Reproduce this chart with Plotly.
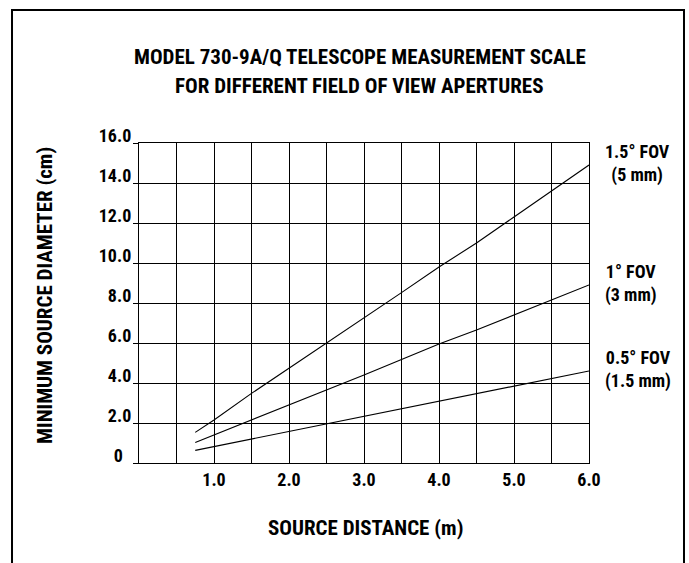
import plotly.graph_objects as go

# ---- data ----
distance_m = [0.75, 1.0, 1.5, 2.0, 2.5, 3.0, 3.5, 4.0, 4.5, 5.0, 5.5, 6.0]
fov_1p5 = [1.53, 2.15, 3.48, 4.73, 6.0, 7.25, 8.52, 9.8, 11.0, 12.3, 13.6, 14.9]
fov_1p0 = [1.03, 1.40, 2.15, 2.88, 3.65, 4.40, 5.18, 5.95, 6.65, 7.4, 8.15, 8.9]
fov_0p5 = [0.63, 0.82, 1.18, 1.57, 1.95, 2.32, 2.71, 3.08, 3.45, 3.85, 4.23, 4.6]

series_labels = ["1.5° FOV<br>(5 mm)", "1° FOV<br>(3 mm)", "0.5° FOV<br>(1.5 mm)"]

x_tick_vals = [0, 1, 2, 3, 4, 5, 6]
x_tick_text = ["", "1.0", "2.0", "3.0", "4.0", "5.0", "6.0"]
x_minor_vals = [0.5, 1.5, 2.5, 3.5, 4.5, 5.5]
y_tick_vals = [0, 2, 4, 6, 8, 10, 12, 14, 16]
y_tick_text = ["0\u00a0\u00a0", "2.0", "4.0", "6.0", "8.0", "10.0", "12.0", "14.0", "16.0"]

title_lines = ["MODEL 730-9A/Q TELESCOPE MEASUREMENT SCALE",
               "FOR DIFFERENT FIELD OF VIEW APERTURES"]
x_title = "SOURCE DISTANCE (m)"
y_title = "MINIMUM SOURCE DIAMETER (cm)"

FONT = "Roboto Condensed, Roboto, sans-serif"

fig = go.Figure()
for ys in (fov_1p5, fov_1p0, fov_0p5):
    fig.add_trace(go.Scatter(x=distance_m, y=ys, mode="lines",
                             line=dict(color="black", width=1.1),
                             showlegend=False, hoverinfo="x+y"))

annotations = []
# curve labels at the right end of each curve
for ys, lab in zip((fov_1p5, fov_1p0, fov_0p5), series_labels):
    annotations.append(dict(x=distance_m[-1], y=ys[-1], xref="x", yref="y",
                            text=lab, showarrow=False, xanchor="left", yanchor="middle",
                            xshift=14, yshift=2, align="center",
                            font=dict(family=FONT, size=18, color="black", weight="bold")))
# title lines
for yy, t in zip((1.269, 1.178), title_lines):
    annotations.append(dict(x=0.491, y=yy, xref="paper", yref="paper", text=t,
                            showarrow=False, xanchor="center", yanchor="middle",
                            font=dict(family=FONT, size=21, color="black", weight="bold")))
# axis titles
annotations.append(dict(x=0.503, y=-0.203, xref="paper", yref="paper", text=x_title,
                        showarrow=False, xanchor="center", yanchor="middle",
                        font=dict(family=FONT, size=21, color="black", weight="bold")))
annotations.append(dict(x=-0.209, y=0.525, xref="paper", yref="paper", text=y_title,
                        showarrow=False, xanchor="center", yanchor="middle", textangle=-90,
                        font=dict(family=FONT, size=21, color="black", weight="bold")))

fig.update_layout(
    width=689, height=563, autosize=False,
    margin=dict(l=139, r=100, t=143, b=100, pad=0),
    paper_bgcolor="white", plot_bgcolor="white",
    annotations=annotations,
    shapes=[dict(type="rect", xref="paper", yref="paper",
                 x0=-0.2822, x1=1.2111, y0=-0.45, y1=1.4156,
                 line=dict(color="black", width=2), fillcolor="rgba(0,0,0,0)")],
    xaxis=dict(range=[0, 6], tickmode="array", tickvals=x_tick_vals, ticktext=x_tick_text,
               showgrid=True, gridcolor="black", gridwidth=1.2,
               showline=True, linecolor="black", linewidth=1.3, mirror=True,
               ticks="", zeroline=False,
               minor=dict(tickvals=x_minor_vals, showgrid=True, gridcolor="black",
                          gridwidth=1.2, ticks=""),
               tickfont=dict(family=FONT, size=18, color="black", weight="bold")),
    yaxis=dict(range=[0, 16], tickmode="array", tickvals=y_tick_vals, ticktext=y_tick_text,
               showgrid=True, gridcolor="black", gridwidth=1.2,
               showline=True, linecolor="black", linewidth=1.3, mirror=True,
               ticks="outside", ticklen=5, tickcolor="black", tickwidth=1.2,
               zeroline=False, ticklabelshift=-7, ticklabelstandoff=-2,
               tickfont=dict(family=FONT, size=18, color="black", weight="bold")),
)

fig.write_html("out.html", config={"displayModeBar": False},
               post_script="document.body.style.margin='0px';")
